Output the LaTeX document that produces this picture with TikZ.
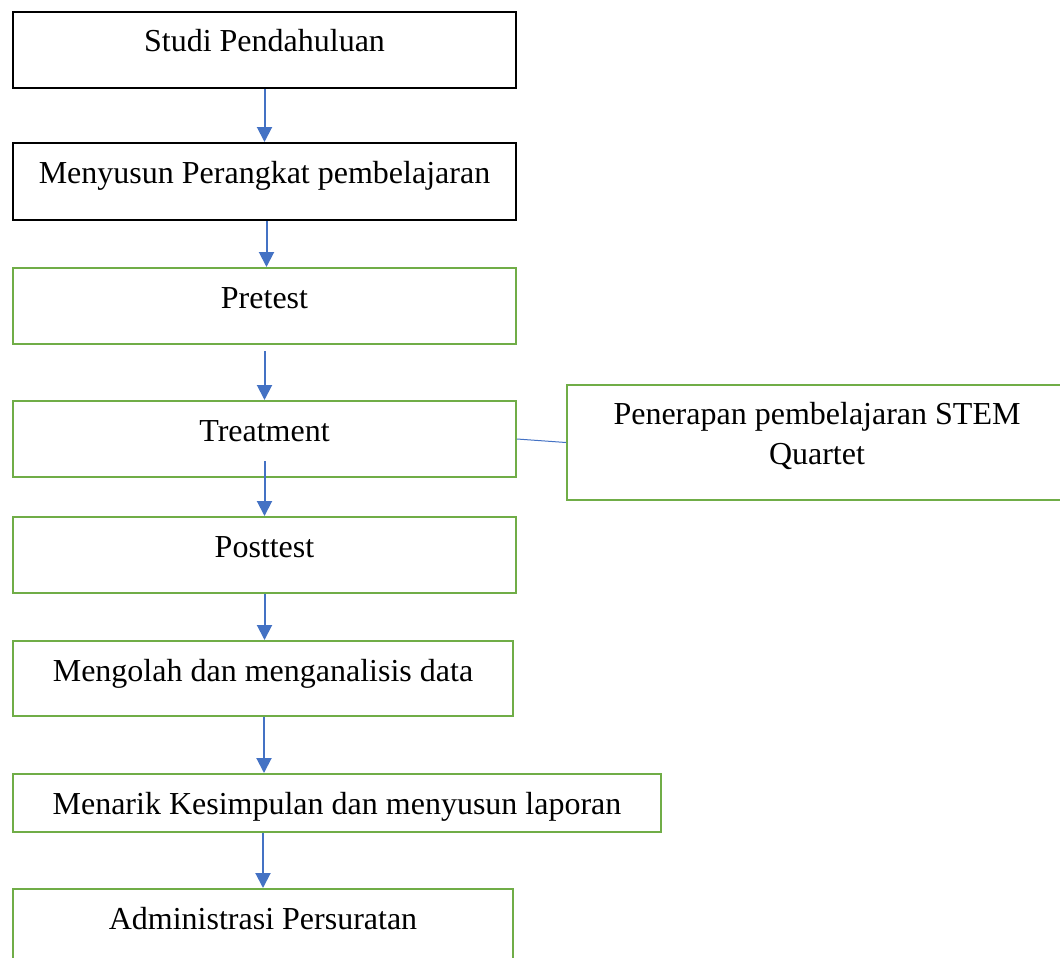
\documentclass[tikz,border=0pt]{standalone}
\usepackage{fontspec}
\setmainfont{Liberation Serif}
\usetikzlibrary{arrows.meta}
\definecolor{wgreen}{HTML}{70AD47}
\definecolor{wblue}{HTML}{4472C4}
\tikzset{
  boxbase/.style={draw, line width=2pt, inner sep=0pt, anchor=north west,
    font=\fontsize{32}{40}\selectfont, text height=40pt},
  blackbox/.style={boxbase, draw=black},
  greenbox/.style={boxbase, draw=wgreen},
  flowarrow/.style={draw=wblue, line width=2pt, -{Triangle[width=15pt,length=15pt]}},
  linkline/.style={draw=wblue, line width=1pt}
}
\begin{document}
\begin{tikzpicture}[x=1pt,y=-1pt]
\useasboundingbox (0,0) rectangle (1060,958);
\node[blackbox, minimum width=503pt, text depth=36pt] (stu) at (12,11) {Studi Pendahuluan};
\node[blackbox, minimum width=503pt, text depth=37pt] (mpp) at (12,142) {Menyusun Perangkat pembelajaran};
\node[greenbox, minimum width=503pt, text depth=36pt] (pre) at (12,267) {Pretest};
\node[greenbox, minimum width=503pt, text depth=36pt] (tre) at (12,400) {Treatment};
\node[greenbox, minimum width=503pt, text depth=36pt] (pos) at (12,516) {Posttest};
\node[greenbox, minimum width=500pt, text depth=35pt] (ana) at (12,640) {Mengolah dan menganalisis data};
\node[greenbox, minimum width=648pt, text depth=18pt] (men) at (12,773) {Menarik Kesimpulan dan menyusun laporan};
\node[greenbox, minimum width=500pt, text depth=50pt] (adm) at (12,888) {Administrasi Persuratan};
\node[greenbox, minimum width=500pt, text height=39pt, text depth=76pt] (pen) at (566,384)
  {\begin{tabular}[t]{@{}c@{}}Penerapan pembelajaran STEM\\Quartet\end{tabular}};
\draw[flowarrow] (stu.south) -- (mpp.north);
\draw[flowarrow] ([xshift=2pt]mpp.south) -- ([xshift=2pt]pre.north);
\draw[flowarrow] ([yshift=-6pt]pre.south) -- (tre.north);
\draw[flowarrow] ([yshift=17pt]tre.south) -- (pos.north);
\draw[flowarrow] (pos.south) -- (ana.north -| pos.south);
\draw[flowarrow] ([xshift=1pt]ana.south) -- ([xshift=1pt]ana.south |- men.north);
\draw[flowarrow] (adm.north |- men.south) -- (adm.north);
\draw[linkline] (tre.east) -- (pen.west);
\end{tikzpicture}
\end{document}
